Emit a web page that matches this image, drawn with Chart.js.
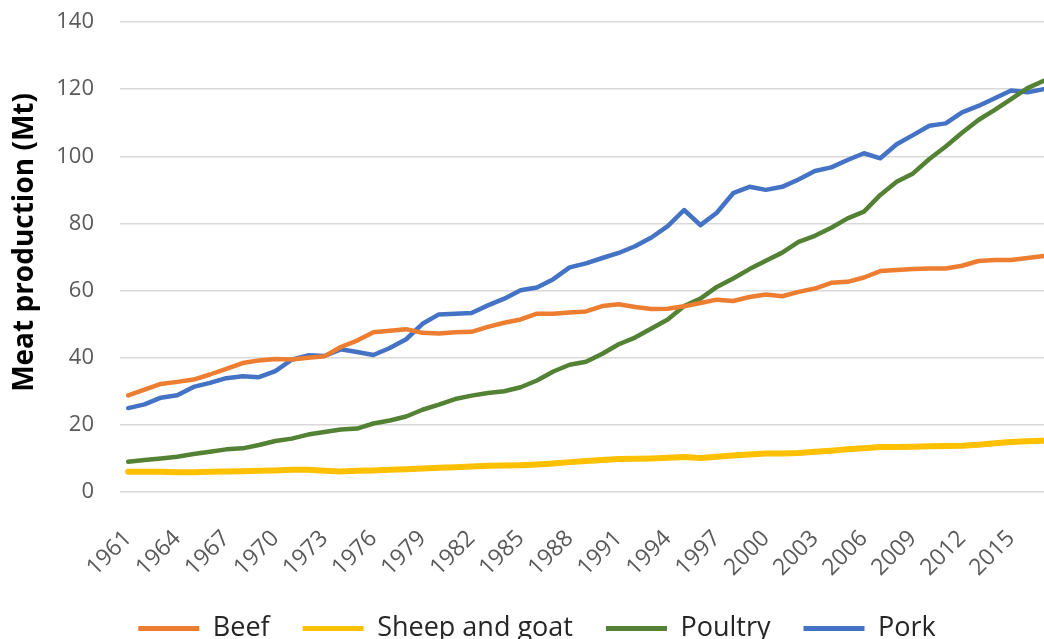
<!DOCTYPE html>
<html>
<head>
<meta charset="utf-8">
<title>Meat production</title>
<script src="https://cdn.jsdelivr.net/npm/chart.js@4.4.1/dist/chart.umd.min.js"></script>
<style>
  html, body { margin: 0; padding: 0; background: #fff; overflow: hidden; }
  /* chart runs a little past the right and bottom edges, like the cropped original */
  #wrap { position: relative; width: 1052px; height: 652px; }
</style>
</head>
<body>
<div id="wrap"><canvas id="meatChart"></canvas></div>
<script>
// years 1961..2017
const years = [
  '1961','1962','1963','1964','1965','1966','1967','1968','1969','1970',
  '1971','1972','1973','1974','1975','1976','1977','1978','1979','1980',
  '1981','1982','1983','1984','1985','1986','1987','1988','1989','1990',
  '1991','1992','1993','1994','1995','1996','1997','1998','1999','2000',
  '2001','2002','2003','2004','2005','2006','2007','2008','2009','2010',
  '2011','2012','2013','2014','2015','2016','2017'
];

// Mt
const beef = [
  28.8, 30.5, 32.2, 32.8, 33.5, 35.0, 36.7, 38.4, 39.2, 39.6,
  39.5, 40.0, 40.4, 43.2, 45.1, 47.6, 48.0, 48.5, 47.4, 47.2,
  47.6, 47.7, 49.2, 50.4, 51.4, 53.1, 53.1, 53.5, 53.8, 55.4,
  55.9, 55.1, 54.5, 54.6, 55.3, 56.3, 57.3, 56.9, 58.1, 58.8,
  58.3, 59.6, 60.6, 62.3, 62.6, 63.9, 65.8, 66.1, 66.4, 66.6,
  66.6, 67.4, 68.8, 69.1, 69.1, 69.7, 70.3
];
const sheepGoat = [
  6.0, 6.0, 6.0, 5.9, 5.9, 6.0, 6.1, 6.2, 6.3, 6.4,
  6.6, 6.6, 6.3, 6.1, 6.3, 6.4, 6.6, 6.8, 7.0, 7.2,
  7.4, 7.6, 7.8, 7.9, 8.0, 8.2, 8.5, 8.9, 9.2, 9.5,
  9.8, 9.9, 10.0, 10.2, 10.4, 10.1, 10.5, 10.9, 11.2, 11.5,
  11.5, 11.6, 12.0, 12.3, 12.7, 13.0, 13.4, 13.4, 13.5, 13.6,
  13.7, 13.8, 14.1, 14.5, 14.9, 15.1, 15.3
];
const poultry = [
  9.0, 9.5, 10.0, 10.5, 11.3, 12.0, 12.7, 13.0, 14.0, 15.2,
  15.9, 17.1, 17.9, 18.6, 18.9, 20.4, 21.3, 22.5, 24.5, 26.0,
  27.7, 28.7, 29.5, 30.0, 31.2, 33.2, 35.9, 37.9, 38.8, 41.2,
  44.0, 46.0, 48.7, 51.4, 55.4, 57.6, 61.1, 63.6, 66.4, 68.9,
  71.3, 74.5, 76.3, 78.7, 81.5, 83.5, 88.5, 92.4, 94.9, 99.2,
  102.9, 107.0, 110.8, 113.8, 117.0, 120.3, 122.5
];
const pork = [
  25.0, 26.1, 28.1, 28.8, 31.3, 32.5, 33.9, 34.5, 34.2, 36.0,
  39.4, 40.7, 40.5, 42.5, 41.7, 40.8, 42.9, 45.5, 50.1, 52.9,
  53.1, 53.3, 55.6, 57.6, 60.1, 60.9, 63.4, 66.9, 68.1, 69.7,
  71.2, 73.2, 75.8, 79.2, 84.0, 79.5, 83.2, 89.0, 90.9, 90.0,
  90.9, 93.1, 95.6, 96.7, 98.9, 100.9, 99.4, 103.6, 106.3, 109.1,
  109.8, 113.1, 115.0, 117.3, 119.6, 119.1, 120.0
];

const yTicks = [0, 20, 40, 60, 80, 100, 120, 140];

const FONT = "'Open Sans', 'Noto Sans', sans-serif";

function line(label, data, color, width){
  return {
    label: label,
    data: data,
    borderColor: color,
    backgroundColor: color,
    borderWidth: width,
    pointRadius: 0,
    tension: 0,
    fill: false,
    borderCapStyle: 'round',
    borderJoinStyle: 'round'
  };
}

const ctx = document.getElementById('meatChart').getContext('2d');
const chart = new Chart(ctx, {
  type: 'line',
  data: {
    labels: years,
    datasets: [
      line('Beef', beef, '#ED7D31', 4.5),
      line('Sheep and goat', sheepGoat, '#FFC000', 6),
      line('Poultry', poultry, '#548235', 4.5),
      line('Pork', pork, '#4472C4', 4.5)
    ]
  },
  options: {
    responsive: true,
    maintainAspectRatio: false,
    animation: false,
    // left padding only nudges the centred legend to the right
    layout: {padding: {top: 22, left: 22, right: 0, bottom: 0}},
    plugins: {
      tooltip: {enabled: false},
      legend: {
        position: 'bottom',
        labels: {
          boxWidth: 61,
          boxHeight: 5,
          padding: 33,
          color: '#262626',
          font: {family: FONT, size: 27},
          generateLabels: (ch) => ch.data.datasets.map((ds, i) => ({
            text: ds.label,
            fillStyle: ds.borderColor,
            strokeStyle: ds.borderColor,
            lineWidth: 0,
            hidden: false,
            datasetIndex: i,
            fontColor: '#262626'
          }))
        }
      }
    },
    scales: {
      x: {
        offset: true,
        grid: {display: false},
        border: {display: false},
        ticks: {
          autoSkip: false,
          maxRotation: 45,
          minRotation: 45,
          padding: 25,
          color: '#595959',
          font: {family: FONT, size: 23},
          callback: (v, i) => (i % 3 === 0 ? years[i] : '')
        },
        afterFit: (scale) => {
          scale.height = 90;
          // let the plot run to the edge, rotated labels need no side room
          scale.paddingLeft = 0;
          scale.paddingRight = 0;
        }
      },
      y: {
        min: 0,
        max: 140,
        afterBuildTicks: (scale) => { scale.ticks = yTicks.map(v => ({value: v})); },
        // invisible tick marks push the labels away without padding the top
        grid: {color: '#D9D9D9', lineWidth: 1.5, drawTicks: true, tickLength: 22, tickColor: 'rgba(0,0,0,0)'},
        border: {display: false},
        ticks: {
          padding: 4,
          color: '#595959',
          font: {family: FONT, size: 22}
        },
        title: {
          display: true,
          // leading no-break spaces lift the title a bit, as in the original
          text: '\u00A0\u00A0\u00A0\u00A0Meat production (Mt)',
          color: '#000',
          font: {family: FONT, size: 28, weight: 'bold'},
          padding: {top: -14, bottom: 0}
        },
        afterFit: (scale) => { scale.width = 98; }
      }
    }
  }
});
</script>
</body>
</html>
